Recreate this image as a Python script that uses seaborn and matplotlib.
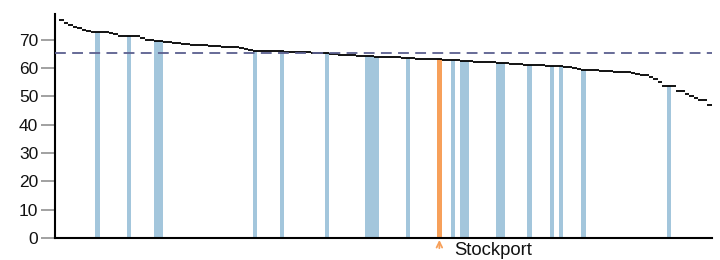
import matplotlib
matplotlib.use('Agg')
import matplotlib.pyplot as plt
import seaborn as sns
import pandas as pd

# values of every area, sorted high to low
values = [
    77.0, 75.7, 75.0, 74.4, 73.9, 73.4, 73.0, 72.8, 72.7, 72.6,
    72.5, 72.3, 71.8, 71.4, 71.3, 71.3, 71.2, 71.1, 70.6, 70.0,
    69.7, 69.6, 69.5, 69.3, 69.1, 68.9, 68.7, 68.5, 68.3, 68.2,
    68.1, 68.0, 67.9, 67.8, 67.7, 67.6, 67.5, 67.4, 67.3, 67.2,
    67.0, 66.7, 66.4, 66.1, 66.0, 66.0, 65.9, 65.9, 65.8, 65.8,
    65.7, 65.7, 65.6, 65.6, 65.5, 65.5, 65.4, 65.3, 65.2, 65.1,
    65.0, 64.8, 64.7, 64.6, 64.5, 64.4, 64.3, 64.2, 64.1, 64.1,
    64.0, 63.9, 63.9, 63.8, 63.8, 63.7, 63.6, 63.5, 63.4, 63.3,
    63.2, 63.2, 63.1, 63.1, 63.0, 62.9, 62.9, 62.8, 62.7, 62.6,
    62.5, 62.3, 62.2, 62.2, 62.1, 62.1, 62.0, 61.8, 61.7, 61.6,
    61.5, 61.3, 61.2, 61.1, 61.0, 61.0, 60.9, 60.9, 60.8, 60.8,
    60.7, 60.5, 60.4, 60.2, 60.0, 59.7, 59.4, 59.3, 59.2, 59.1,
    59.0, 58.9, 58.8, 58.7, 58.6, 58.5, 58.4, 58.2, 58.0, 57.5,
    57.5, 56.8, 56.0, 55.0, 53.7, 53.7, 53.7, 51.9, 51.9, 50.9,
    50.1, 49.4, 48.8, 48.8, 46.8,
]
# positions of the comparator areas and of the highlighted one
neighbours = [8, 15, 21, 22, 43, 49, 59, 68, 69, 70, 77, 87, 89, 90,
              97, 98, 104, 109, 111, 116, 135]
highlight = 84
highlight_name = 'Stockport'
average = 65.3
yticks = [0, 10, 20, 30, 40, 50, 60, 70]

bar_blue = '#a3c6dc'
bar_orange = '#f7a05a'
tick_grey = '#9a9a9a'

idx = list(range(len(values)))
picked = sorted(neighbours + [highlight])
bars = pd.DataFrame({
    'pos': picked,
    'value': [values[i] for i in picked],
    'group': ['main' if i == highlight else 'other' for i in picked],
})

sns.set_style('ticks')
plt.rcParams['font.family'] = ['Liberation Sans', 'DejaVu Sans']
plt.rcParams['ytick.color'] = tick_grey
plt.rcParams['ytick.labelcolor'] = '#111111'
plt.rcParams['ytick.major.size'] = 10
plt.rcParams['ytick.major.width'] = 1.3

fig = plt.figure(figsize=(7.2, 2.6), dpi=100)
ax = fig.add_axes([55 / 720, 22 / 260, 657 / 720, 224 / 260])

sns.barplot(data=bars, x='pos', y='value', hue='group',
            palette={'main': bar_orange, 'other': bar_blue},
            native_scale=True, width=1.0, dodge=False, legend=False,
            saturation=1, linewidth=0, ax=ax)

ax.hlines(values, [i - 0.5 for i in idx], [i + 0.5 for i in idx],
          color='black', linewidth=1.3, zorder=3)
ax.axhline(average, color='#5b5f8f', linewidth=1.3, dashes=(6, 3.5), zorder=4)

ax.set_xlim(-1.44, 144.6)
ax.set_ylim(0, 79)
ax.set_yticks(yticks)
ax.set_xticks([])
ax.set_xlabel('')
ax.set_ylabel('')
for side in ['top', 'right']:
    ax.spines[side].set_visible(False)
for side in ['left', 'bottom']:
    ax.spines[side].set_color('black')
    ax.spines[side].set_linewidth(1.5)
ax.yaxis.set_ticks_position('left')
ax.tick_params(axis='y', left=True, length=10, width=1.3, color=tick_grey,
               pad=2, labelsize=12.5, labelcolor='#111111')
for t in ax.yaxis.get_major_ticks():
    t.tick1line.set_visible(True)
    t.tick1line.set_markeredgecolor(tick_grey)
    t.tick1line.set_markersize(10)
    t.tick1line.set_markeredgewidth(1.3)
    t.tick1line.set_clip_on(False)

ax.annotate('', xy=(highlight, -0.7), xytext=(highlight, -3.6),
            arrowprops=dict(arrowstyle='->', color=bar_orange, lw=1.3,
                            shrinkA=0, shrinkB=0),
            annotation_clip=False)
ax.text(highlight + 3.4, -4.4, highlight_name, fontsize=13.3, va='center',
        ha='left', color='#111111', clip_on=False)

fig.savefig('out.png', dpi=100)
